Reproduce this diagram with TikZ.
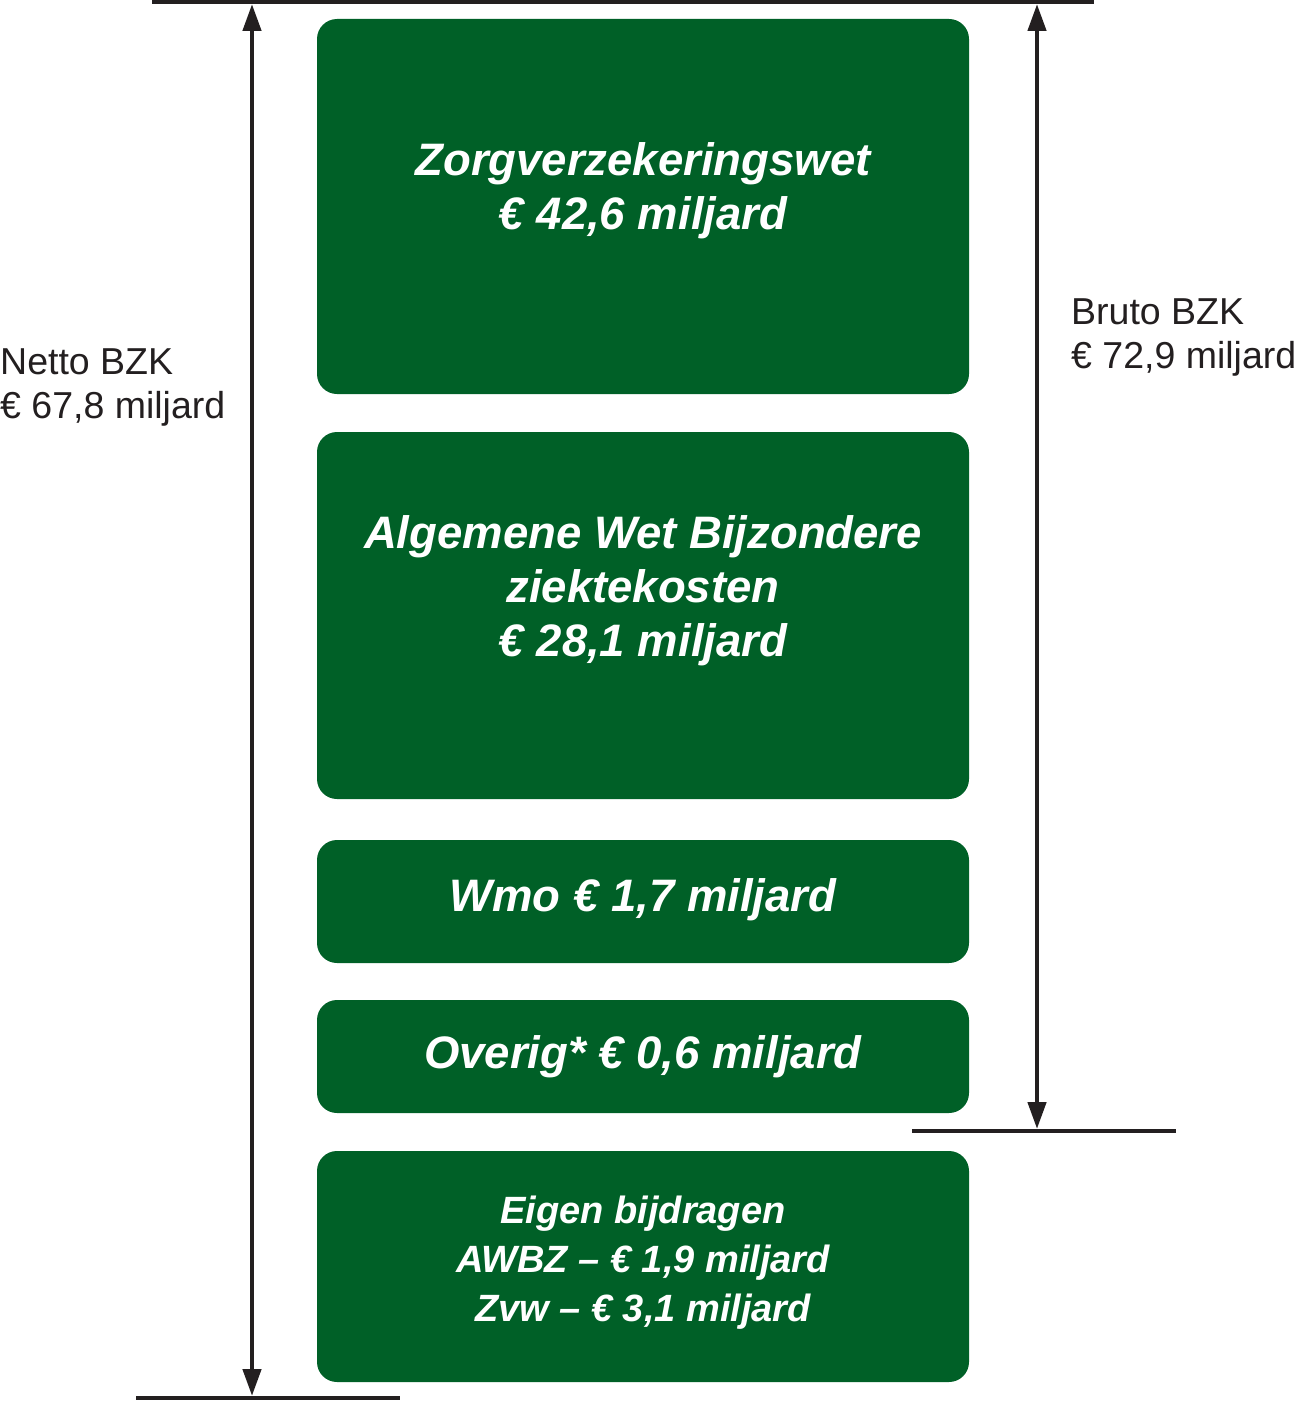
\documentclass[tikz,border=0pt]{standalone}
\usepackage{fontspec}
\setmainfont{Liberation Sans}
\usetikzlibrary{arrows.meta}
\definecolor{rijkgreen}{RGB}{0,96,39}
\definecolor{inkline}{RGB}{35,31,32}
\begin{document}
\begin{tikzpicture}[x=1pt,y=-1pt,
  greenbox/.style={fill=rijkgreen, draw=none, rounded corners=20pt, inner sep=0pt, minimum width=652pt},
  boxtext/.style={text=white, align=center, inner sep=0pt, font=\bfseries\itshape\fontsize{45.5}{54}\selectfont},
  smalltext/.style={text=white, align=center, inner sep=0pt, font=\bfseries\itshape\fontsize{38}{49}\selectfont},
  sidetext/.style={text=inkline, align=left, inner sep=0pt, anchor=west, font=\fontsize{37.5}{44}\selectfont},
  rule/.style={draw=inkline, line width=4pt},
  dimarrow/.style={draw=inkline, line width=4.5pt, {Triangle[length=27pt,width=18pt]}-{Triangle[length=27pt,width=18pt]}}
]
\useasboundingbox (0,0) rectangle (1299,1402);
% boxes
\node[greenbox, minimum height=375pt] (b1) at (643,206.5) {};
\node[greenbox, minimum height=367pt] (b2) at (643,615.5) {};
\node[greenbox, minimum height=123pt] (b3) at (643,901.5) {};
\node[greenbox, minimum height=113pt] (b4) at (643,1056.5) {};
\node[greenbox, minimum height=231pt] (b5) at (643,1266.5) {};
% box texts
\node[boxtext] (t1) at (643,191) {Zorgverzekeringswet\\€ 42,6 miljard};
\node[boxtext] (t2) at (643,591) {Algemene Wet Bijzondere\\ziektekosten\\€ 28,1 miljard};
\node[boxtext] (t3) at (643,900) {Wmo € 1,7 miljard};
\node[boxtext] (t4) at (643,1057) {Overig* € 0,6 miljard};
\node[smalltext] (t5) at (643,1263) {Eigen bijdragen\\AWBZ – € 1,9 miljard\\Zvw – € 3,1 miljard};
% rules
\coordinate (topL) at (152,2);
\coordinate (topR) at (1094,2);
\coordinate (botL) at (136,1398);
\coordinate (botR) at (400,1398);
\coordinate (midL) at (912,1131);
\coordinate (midR) at (1176,1131);
\draw[rule] (topL) -- (topR);
\draw[rule] (botL) -- (botR);
\draw[rule] (midL) -- (midR);
% dimension arrows
\coordinate (nettoTop) at (252,4);
\coordinate (nettoBot) at (252,1396);
\coordinate (brutoTop) at (1037,4);
\coordinate (brutoBot) at (1037,1129);
\draw[dimarrow] (nettoTop) -- (nettoBot);
\draw[dimarrow] (brutoTop) -- (brutoBot);
% labels
\node[sidetext] (netto) at (0,387) {Netto BZK\\€ 67,8 miljard};
\node[sidetext] (bruto) at (1071,337) {Bruto BZK\\€ 72,9 miljard};
\end{tikzpicture}
\end{document}
